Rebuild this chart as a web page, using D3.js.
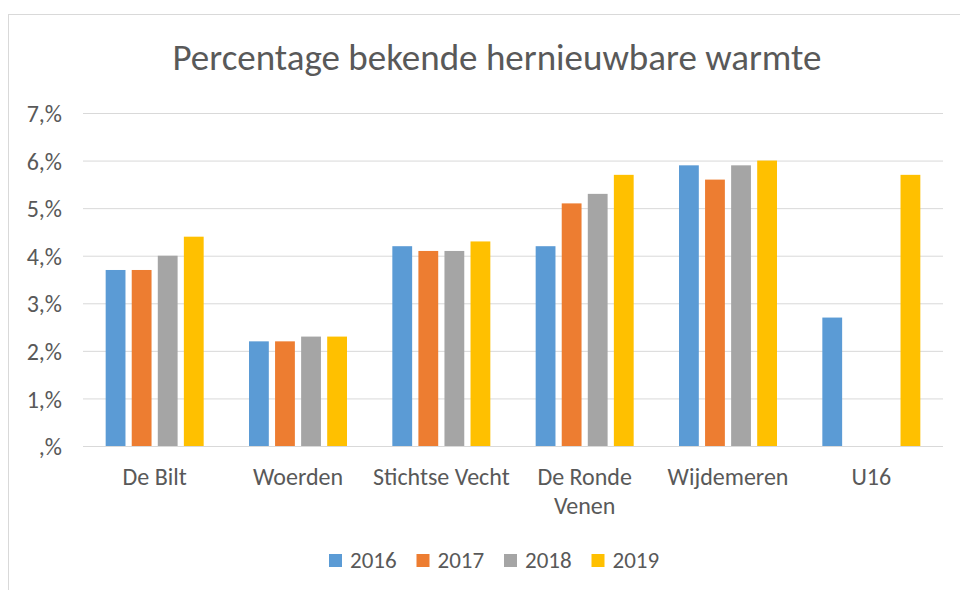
<!DOCTYPE html>
<html>
<head>
<meta charset="utf-8">
<script src="https://cdn.jsdelivr.net/npm/d3@7"></script>
<style>
  body { margin: 0; background: #fff; }
  text { font-family: Carlito, Calibri, "Open Sans", sans-serif; fill: #595959; }
</style>
</head>
<body>
<svg id="chart" width="960" height="590"></svg>
<script>
const categories = ["De Bilt", "Woerden", "Stichtse Vecht", "De Ronde Venen", "Wijdemeren", "U16"];
const years = ["2016", "2017", "2018", "2019"];
const v2016 = [3.7, 2.2, 4.2, 4.2, 5.9, 2.7];
const v2017 = [3.7, 2.2, 4.1, 5.1, 5.6, null];
const v2018 = [4.0, 2.3, 4.1, 5.3, 5.9, null];
const v2019 = [4.4, 2.3, 4.3, 5.7, 6.0, 5.7];
const yTicks = [0, 1, 2, 3, 4, 5, 6, 7];
const colors = ["#5b9bd5", "#ed7d31", "#a5a5a5", "#ffc000"];

const series = [v2016, v2017, v2018, v2019];
const svg = d3.select("#chart");

// chart frame
svg.append("rect")
  .attr("x", 8.5).attr("y", 14.5)
  .attr("width", 1000).attr("height", 600)
  .attr("fill", "none")
  .attr("stroke", "#d9d9d9");

const plotLeft = 83, plotRight = 943, plotTop = 113, plotBottom = 446;

const x0 = d3.scaleBand().domain(categories).range([plotLeft, plotRight]).padding(0);
const x1 = d3.scaleBand().domain(years).range([0, 98]).paddingInner(0.24);
const y = d3.scaleLinear().domain([0, 7]).range([plotBottom, plotTop]);

// gridlines
svg.append("g")
  .selectAll("line")
  .data(yTicks)
  .enter()
  .append("line")
  .attr("x1", plotLeft).attr("x2", plotRight)
  .attr("y1", d => y(d) + 0.5).attr("y2", d => y(d) + 0.5)
  .attr("stroke", "#d9d9d9")
  .attr("stroke-width", 1);

// y axis labels
const yAxis = d3.axisLeft(y).tickValues(yTicks).tickSize(0).tickPadding(0)
  .tickFormat(d => (d === 0 ? "" : d) + ",%");
svg.append("g")
  .attr("transform", "translate(62,0)")
  .call(yAxis)
  .call(g => g.select(".domain").remove())
  .call(g => g.attr("font-family", null).attr("font-size", null))
  .selectAll("text")
  .attr("font-size", 24)
  .attr("dy", "0.36em")
  .attr("fill", "#595959");

// bars
const groups = svg.append("g")
  .selectAll("g")
  .data(categories)
  .enter()
  .append("g")
  .attr("transform", d => "translate(" + (x0(d) + x0.bandwidth() / 2 - 49) + ",0)");

groups.selectAll("rect")
  .data((d, i) => years.map((yr, j) => ({ yr: yr, v: series[j][i], c: colors[j] })).filter(d => d.v != null))
  .enter()
  .append("rect")
  .attr("x", d => x1(d.yr))
  .attr("width", x1.bandwidth())
  .attr("y", d => y(d.v))
  .attr("height", d => y(0) - y(d.v))
  .attr("fill", d => d.c);

// x labels
const xLabels = svg.append("g")
  .selectAll("text")
  .data(categories)
  .enter()
  .append("text")
  .attr("text-anchor", "middle")
  .attr("font-size", 24)
  .attr("transform", d => "translate(" + (x0(d) + x0.bandwidth() / 2) + ",485)");

xLabels.each(function (d) {
  const el = d3.select(this);
  const lines = d === "De Ronde Venen" ? ["De Ronde", "Venen"] : [d];
  lines.forEach((t, i) => {
    el.append("tspan").attr("x", 0).attr("dy", i === 0 ? 0 : 29).text(t);
  });
});

// title
svg.append("text")
  .attr("x", 497).attr("y", 70)
  .attr("text-anchor", "middle")
  .attr("font-size", 37)
  .text("Percentage bekende hernieuwbare warmte");

// legend
const legend = svg.append("g")
  .selectAll("g")
  .data(years)
  .enter()
  .append("g")
  .attr("transform", (d, i) => "translate(" + (329 + i * 87.5) + ",554)");

legend.append("rect")
  .attr("width", 13).attr("height", 13)
  .attr("fill", (d, i) => colors[i]);

legend.append("text")
  .attr("x", 21).attr("y", 14)
  .attr("font-size", 23)
  .text(d => d);
</script>
</body>
</html>
